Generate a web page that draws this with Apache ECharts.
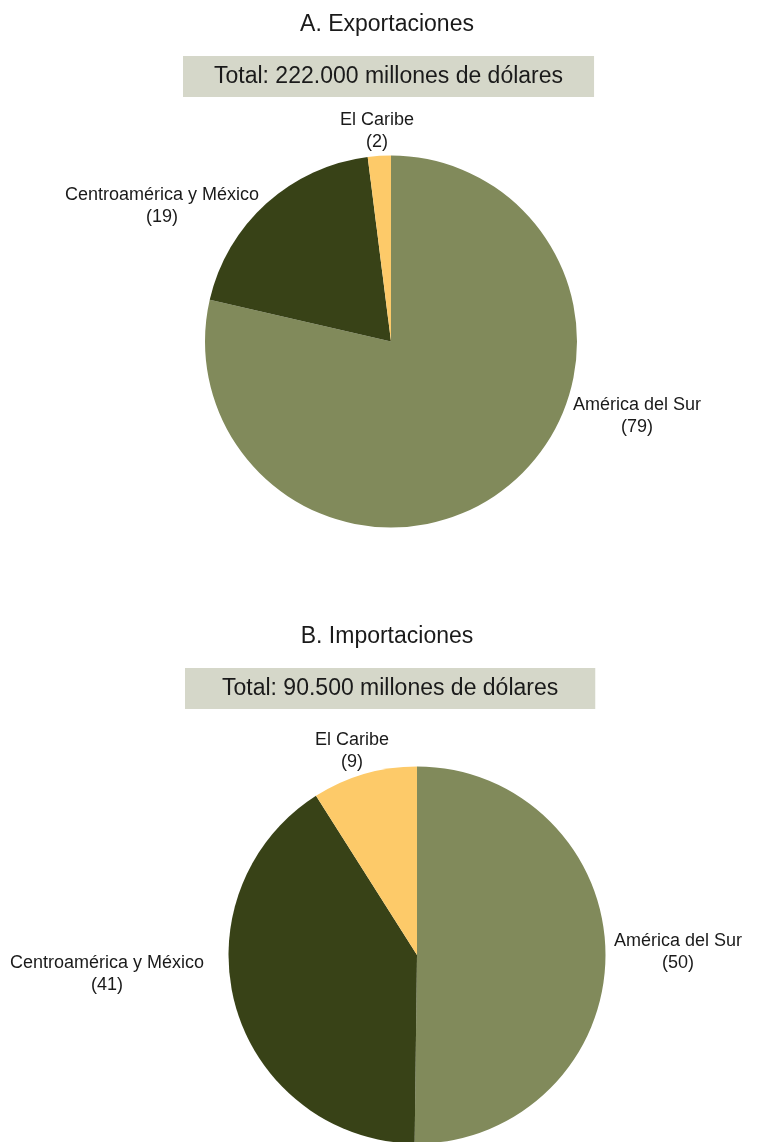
<!DOCTYPE html>
<html>
<head>
<meta charset="utf-8">
<script src="https://cdn.jsdelivr.net/npm/echarts@6/dist/echarts.min.js"></script>
<style>
  html, body { margin: 0; padding: 0; background: #fff; }
  #chart { width: 757px; height: 1142px; }
</style>
</head>
<body>
<div id="chart"></div>
<script>
// 数据
const regions = ['América del Sur', 'Centroamérica y México', 'El Caribe'];
const exportShares = [78.6, 19.4, 2.0];
const importShares = [50.2, 40.8, 9.0];
const panelTitles = ['A. Exportaciones', 'B. Importaciones'];
const totals = ['Total: 222.000 millones de dólares', 'Total: 90.500 millones de dólares'];

const colors = ['#818a5b', '#384217', '#fdca69'];
const font = "'Liberation Sans', Arial, sans-serif";

// 标签位置 (像素)
const labelPos = [
    [[637, 416], [162, 206], [377, 131]],
    [[678, 952], [107, 974], [352, 751]]
];

function makeTitles(idx, top, boxLeft, padX) {
    return [
        {
            text: panelTitles[idx],
            left: 387, top: top, textAlign: 'center', padding: 0,
            textStyle: { fontFamily: font, fontSize: 23, fontWeight: 'normal', color: '#1a1a1a', lineHeight: 24 }
        },
        {
            text: totals[idx],
            left: boxLeft, top: top + 43,
            padding: [9, padX], backgroundColor: '#d5d7c9',
            textStyle: { fontFamily: font, fontSize: 23, fontWeight: 'normal', color: '#1a1a1a', lineHeight: 23 }
        }
    ];
}

function makePie(values, center, radius, sIdx) {
    return {
        type: 'pie',
        center: center,
        radius: radius,
        startAngle: 90,
        clockwise: true,
        silent: true,
        animation: false,
        itemStyle: { borderWidth: 0 },
        label: {
            show: true,
            position: 'outside',
            overflow: 'none',
            formatter: function (p) {
                return '{a|' + p.name + '}\n{a|(' + Math.round(p.value) + ')}';
            },
            rich: {
                a: { fontFamily: font, fontSize: 18, lineHeight: 22, color: '#1a1a1a', align: 'center' }
            }
        },
        labelLine: { show: false },
        labelLayout: function (params) {
            const pos = labelPos[sIdx][params.dataIndex];
            return { x: pos[0], y: pos[1], align: 'center', verticalAlign: 'middle' };
        },
        data: regions.map((name, i) => ({
            name: name,
            value: values[i],
            itemStyle: { color: colors[i] }
        }))
    };
}

const chart = echarts.init(document.getElementById('chart'));
chart.setOption({
    backgroundColor: '#fff',
    animation: false,
    title: makeTitles(0, 13, 183, 31).concat(makeTitles(1, 625, 185, 37)),
    series: [
        makePie(exportShares, [391, 341.5], 186, 0),
        makePie(importShares, [417, 955], 188.5, 1)
    ]
});
</script>
</body>
</html>
